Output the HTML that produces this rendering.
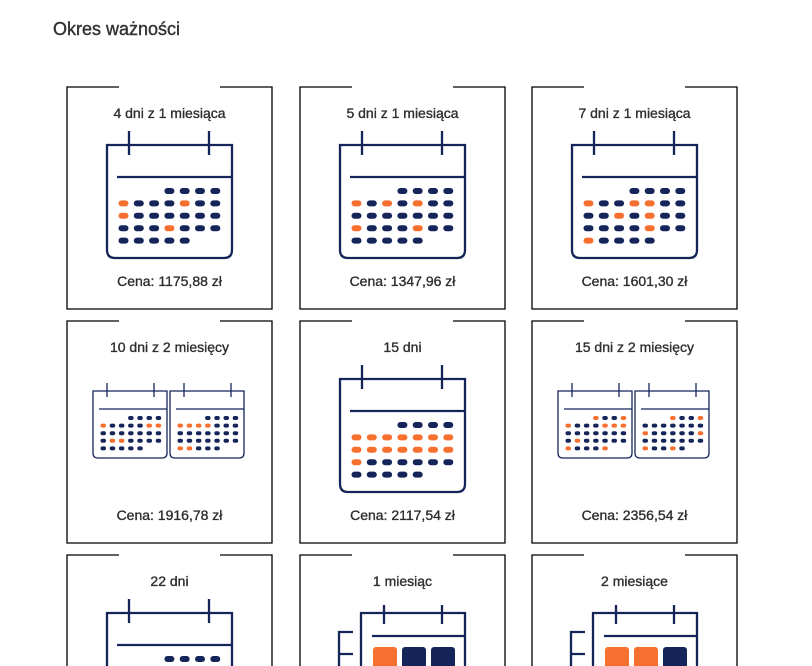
<!DOCTYPE html>
<html><head><meta charset="utf-8"><style>
html,body{margin:0;background:#fff;width:812px;height:666px;overflow:hidden;font-family:"Liberation Sans",sans-serif;}
svg{display:block}
</style></head><body>
<svg id="s" width="812" height="666" xmlns="http://www.w3.org/2000/svg" font-family="Liberation Sans, sans-serif">
<text x="53" y="35" font-size="18" fill="#333" stroke="#333" stroke-width="0.4">Okres ważności</text>
</svg>
<script>
var s=document.getElementById('s'),h='';
var N='#15255a',O='#f7702f',E=665;
function card(x,y,title,price){
 var B=Math.min(y+222,E+10);
 h+='<path d="M'+(x+52)+' '+y+'H'+x+'V'+B+(B==y+222?'H'+(x+205):'M'+(x+205)+' '+B)+'V'+y+'H'+(x+153)+'" fill="none" stroke="#000" stroke-width="1.3"/>';
 h+='<text x="'+(x+102.5)+'" y="'+(y+31)+'" font-size="14" text-anchor="middle" fill="#2e2e2e" stroke="#2e2e2e" stroke-width="0.35">'+title+'</text>';
 if(price)h+='<text x="'+(x+102.5)+'" y="'+(y+199)+'" font-size="14" text-anchor="middle" fill="#2e2e2e" stroke="#2e2e2e" stroke-width="0.35">'+price+'</text>';
}
function cellsOn(r,c){return !(r==0&&c<3)&&!(r==4&&c>4);}
function big(x,y,or){
 var L=x+40,T=y+58,R=x+165,B=y+171;
 if(B<E)h+='<path d="M'+L+' '+T+'H'+R+'V'+(B-8)+'Q'+R+' '+B+' '+(R-8)+' '+B+'H'+(L+8)+'Q'+L+' '+B+' '+L+' '+(B-8)+'Z" fill="none" stroke="'+N+'" stroke-width="2.3"/>';
 else h+='<path d="M'+L+' '+(E+5)+'V'+T+'H'+R+'V'+(E+5)+'" fill="none" stroke="'+N+'" stroke-width="2.3"/>';
 h+='<line x1="'+(x+62)+'" y1="'+(y+44)+'" x2="'+(x+62)+'" y2="'+(y+68)+'" stroke="'+N+'" stroke-width="2.3"/>';
 h+='<line x1="'+(x+142)+'" y1="'+(y+44)+'" x2="'+(x+142)+'" y2="'+(y+68)+'" stroke="'+N+'" stroke-width="2.3"/>';
 h+='<line x1="'+(x+50)+'" y1="'+(y+90)+'" x2="'+R+'" y2="'+(y+90)+'" stroke="'+N+'" stroke-width="2.3"/>';
 for(var r=0;r<5;r++)for(var c=0;c<7;c++){if(!cellsOn(r,c))continue;
  var col=or.indexOf(r+','+c)>=0?O:N;
  if(y+101+r*12.4+6>E)continue;
  h+='<rect x="'+(x+51.5+c*15.3)+'" y="'+(y+101+r*12.4)+'" width="10" height="6" rx="3" fill="'+col+'"/>';}
}
function small(x,y,or){
 var W=74,H=67;
 h+='<path d="M'+x+' '+y+'H'+(x+W)+'V'+(y+H-5)+'Q'+(x+W)+' '+(y+H)+' '+(x+W-5)+' '+(y+H)+'H'+(x+5)+'Q'+x+' '+(y+H)+' '+x+' '+(y+H-5)+'Z" fill="none" stroke="'+N+'" stroke-width="1.3"/>';
 h+='<line x1="'+(x+14)+'" y1="'+(y-8)+'" x2="'+(x+14)+'" y2="'+(y+6)+'" stroke="'+N+'" stroke-width="1.3"/>';
 h+='<line x1="'+(x+61)+'" y1="'+(y-8)+'" x2="'+(x+61)+'" y2="'+(y+6)+'" stroke="'+N+'" stroke-width="1.3"/>';
 h+='<line x1="'+(x+6)+'" y1="'+(y+18)+'" x2="'+(x+W)+'" y2="'+(y+18)+'" stroke="'+N+'" stroke-width="1.3"/>';
 for(var r=0;r<5;r++)for(var c=0;c<7;c++){if(!cellsOn(r,c))continue;
  var col=or.indexOf(r+','+c)>=0?O:N;
  h+='<rect x="'+(x+7.5+c*9.2)+'" y="'+(y+25+r*7.6)+'" width="5.5" height="4" rx="2" fill="'+col+'"/>';}
}
function month(x,y,cols){
 var L=x+61,T=y+58,R=x+165;
 h+='<path d="M'+L+' '+(E+5)+'V'+T+'H'+R+'V'+(E+5)+'" fill="none" stroke="'+N+'" stroke-width="2.3"/>';
 h+='<line x1="'+(x+84)+'" y1="'+(y+50)+'" x2="'+(x+84)+'" y2="'+(y+69)+'" stroke="'+N+'" stroke-width="2.3"/>';
 h+='<line x1="'+(x+142)+'" y1="'+(y+50)+'" x2="'+(x+142)+'" y2="'+(y+69)+'" stroke="'+N+'" stroke-width="2.3"/>';
 h+='<line x1="'+(x+72)+'" y1="'+(y+81)+'" x2="'+R+'" y2="'+(y+81)+'" stroke="'+N+'" stroke-width="2.3"/>';
 h+='<path d="M'+(x+53)+' '+(y+77)+'H'+(x+39)+'V'+(E+5)+'M'+(x+39)+' '+(y+99)+'H'+(x+53)+'" fill="none" stroke="'+N+'" stroke-width="2.3"/>';
 for(var i=0;i<3;i++)h+='<rect x="'+(x+73+i*29)+'" y="'+(y+92)+'" width="24" height="24" rx="3" fill="'+cols[i]+'"/>';
}
var X=[67,300,532],Y=[87,321,555];
card(X[0],Y[0],'4 dni z 1 miesiąca','Cena: 1175,88 zł');big(X[0],Y[0],['1,0','1,4','2,0','3,3']);
card(X[1],Y[0],'5 dni z 1 miesiąca','Cena: 1347,96 zł');big(X[1],Y[0],['1,0','1,2','1,4','3,0','3,4']);
card(X[2],Y[0],'7 dni z 1 miesiąca','Cena: 1601,30 zł');big(X[2],Y[0],['1,0','1,3','1,4','2,2','2,4','3,4','4,0']);
card(X[0],Y[1],'10 dni z 2 miesięcy','Cena: 1916,78 zł');
small(X[0]+26,Y[1]+70,['1,0','1,5','1,6','3,1','3,2']);small(X[0]+103,Y[1]+70,['1,0','1,1','1,2','1,3','4,0','4,1']);
card(X[1],Y[1],'15 dni','Cena: 2117,54 zł');
big(X[1],Y[1],['1,0','1,1','1,2','1,3','1,4','1,5','1,6','2,0','2,1','2,2','2,3','2,4','2,5','2,6','3,0']);
card(X[2],Y[1],'15 dni z 2 miesięcy','Cena: 2356,54 zł');
small(X[2]+26,Y[1]+70,['0,3','0,6','1,0','1,4','1,5','1,6','3,1','4,0','4,4']);small(X[2]+103,Y[1]+70,['0,3','0,6','2,0','2,6','4,0','4,3']);
card(X[0],Y[2],'22 dni','');big(X[0],Y[2],[]);
card(X[1],Y[2],'1 miesiąc','');month(X[1],Y[2],[O,N,N]);
card(X[2],Y[2],'2 miesiące','');month(X[2],Y[2],[O,O,N]);
s.insertAdjacentHTML('beforeend',h);
</script>
</body></html>
